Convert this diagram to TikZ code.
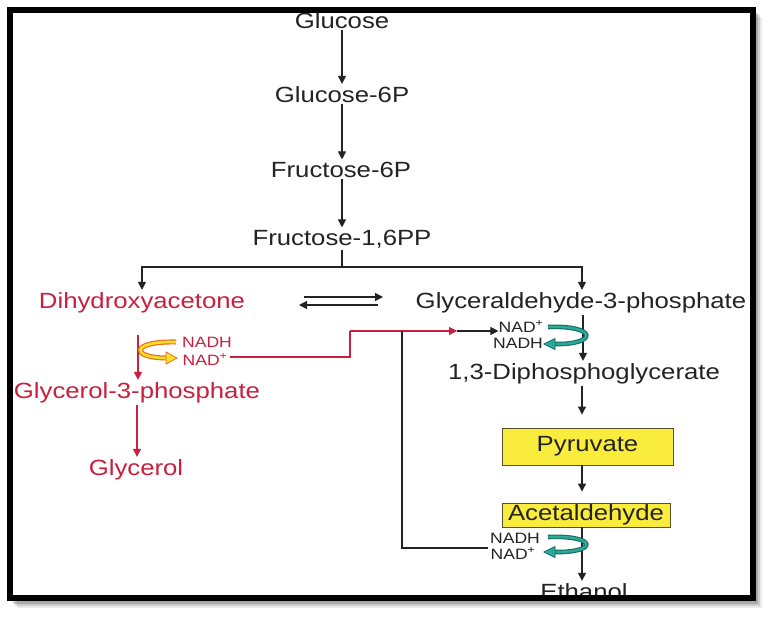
\documentclass[tikz,border=0pt]{standalone}
\usepackage{fontspec}
\newfontfamily\diagfont[FakeStretch=1.17]{Liberation Sans}
\usetikzlibrary{arrows.meta}

\definecolor{inkgray}{RGB}{35,35,35}
\definecolor{pathred}{RGB}{200,32,62}
\definecolor{boxyellow}{RGB}{250,236,60}
\definecolor{boxedge}{RGB}{90,80,40}
\definecolor{tealdark}{RGB}{20,110,100}
\definecolor{teallight}{RGB}{45,170,150}
\definecolor{bandorange}{RGB}{235,110,30}
\definecolor{bandyellow}{RGB}{250,225,40}

\begin{document}
\begin{tikzpicture}[x=1pt, y=-1pt,
    metab/.style={font=\diagfont\fontsize{22}{26}\selectfont, text=inkgray,
        inner sep=2pt, anchor=base},
    redmetab/.style={metab, text=pathred},
    cofac/.style={font=\diagfont\fontsize{15}{18}\selectfont, text=inkgray,
        inner sep=0pt, anchor=base},
    redcofac/.style={cofac, text=pathred},
    product/.style={metab, anchor=center, draw=boxedge, fill=boxyellow,
        line width=0.9pt, inner sep=0pt},
    plain/.style={draw=inkgray, line width=1.1pt},
    flow/.style={plain, -{Triangle[length=8pt,width=8pt]}},
    redflow/.style={flow, draw=pathred}
]
    \useasboundingbox (0,0) rectangle (771,616);
    % frame shadow and paper
    \fill[black, opacity=0.08] (17,17) rectangle (762,608);
    \fill[black, opacity=0.12] (15,15) rectangle (760,606);
    \fill[black, opacity=0.18] (13,13) rectangle (758,604);
    \fill[white] (13,13) rectangle (750,595);

    % main chain
    \node[metab] (glc) at (342,28) {Glucose};
    \node[metab] (g6p) at (342,102) {Glucose-6P};
    \node[metab] (f6p) at (341,177) {Fructose-6P};
    \node[metab] (fbp) at (342,245) {Fructose-1,6PP};
    \node[redmetab] (dha) at (142,308) {Dihydroxyacetone};
    \node[metab] (gap) at (581,308) {Glyceraldehyde-3-phosphate};
    \node[metab] (bpg) at (584,379) {1,3-Diphosphoglycerate};
    \node[product, minimum width=171pt, minimum height=37pt] (pyr) at (587.5,446.5) {Pyruvate};
    \node[product, minimum width=168pt, minimum height=24pt] (ace) at (586,515) {Acetaldehyde};
    \node[metab] (eth) at (584,599) {Ethanol};
    \node[redmetab] (g3p) at (137,398) {Glycerol-3-phosphate};
    \node[redmetab] (gly) at (136,475) {Glycerol};

    % cofactors
    \node[redcofac] (nadhR) at (207,347) {NADH};
    \node[redcofac] (nadR) at (205,365) {NAD\textsuperscript{+}};
    \node[cofac] (nadT) at (521,332) {NAD\textsuperscript{+}};
    \node[cofac] (nadhT) at (518,348) {NADH};
    \node[cofac] (nadhB) at (515,543) {NADH};
    \node[cofac] (nadB) at (513,559) {NAD\textsuperscript{+}};

    \draw[flow] (glc) -- (g6p);
    \draw[flow] (g6p) -- (f6p.north -| g6p.south);
    \draw[flow] (f6p.south -| g6p.south) -- (fbp);
    \coordinate (split) at (342,267);
    \draw[plain] (fbp.south) -- (split);
    \draw[flow] (split) -| (dha.north);
    \draw[flow] (split) -| ([xshift=1pt]gap.north);

    % equilibrium
    \coordinate (eqa) at (304,297);
    \coordinate (eqb) at (383,297);
    \coordinate (eqc) at (378,305);
    \coordinate (eqd) at (299,305);
    \draw[flow] (eqa) -- (eqb);
    \draw[flow] (eqc) -- (eqd);

    % glycerol branch
    \coordinate (redtop) at (138,335);
    \draw[redflow] (redtop) -- (redtop |- g3p.north);
    \draw[redflow] (g3p.south -| 137,0) -- (gly.north -| 137,0);
    \draw[line width=5pt, bandorange] (176,342) .. controls (130,341) and (130,358) .. (167,358);
    \draw[line width=2.6pt, bandyellow] (176,342) .. controls (130,341) and (130,358) .. (167,358);
    \fill[bandyellow, draw=bandorange, line width=0.8pt] (177,358) -- (166,352) -- (166,364) -- cycle;

    % NAD+ recycling
    \coordinate (rturn) at (350,331);
    \coordinate (rtip) at (457,331);
    \coordinate (jn) at (402,331);
    \draw[plain, draw=pathred] ([xshift=2pt]nadR.east |- 0,357) -| (rturn);
    \draw[redflow] (rturn) -- (rtip);
    \draw[flow] (rtip) -- (rtip -| nadT.west);
    \draw[plain] (jn) |- ([xshift=-2pt]nadB.west |- 0,548);

    % lower chain
    \draw[flow] ([xshift=2pt]gap.south) -- ([xshift=2pt]gap.south |- bpg.north);
    \draw[flow, shorten >=13pt] (bpg.south -| 582,0) -- (pyr.north -| 582,0);
    \draw[flow, shorten >=11pt] (pyr.south -| 582,0) -- (ace.north -| 582,0);
    \draw[flow] (ace.south -| 582,0) -- (eth.north -| 582,0);

    % teal cofactor arrows
    \foreach \ya/\yb in {327/344, 537/552} {
        \draw[line width=4.6pt, tealdark] (548,\ya) .. controls (598,\ya-2) and (598,\yb+1) .. (554,\yb);
        \draw[line width=2.4pt, teallight] (548,\ya) .. controls (598,\ya-2) and (598,\yb+1) .. (554,\yb);
        \fill[teallight, draw=tealdark, line width=0.7pt] (544,\yb) -- (555,\yb-5.5) -- (555,\yb+5.5) -- cycle;
    }

    % frame
    \draw[line width=6pt, black] (10,10) rectangle (753,598);
\end{tikzpicture}
\end{document}
